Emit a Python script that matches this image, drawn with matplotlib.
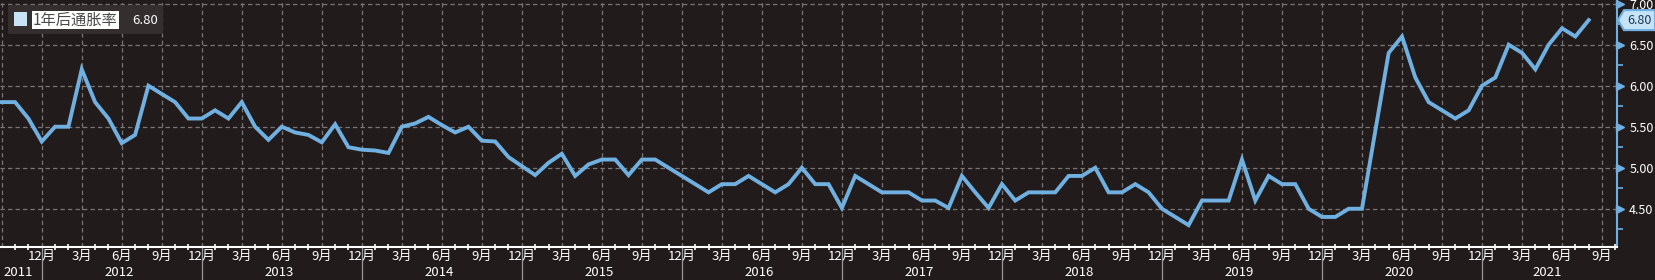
"""1-year-ahead inflation expectation, monthly, Bloomberg-style dark chart."""

import matplotlib

matplotlib.use("Agg")
import matplotlib.pyplot as plt
import matplotlib.transforms as mtransforms
from matplotlib.patches import FancyBboxPatch, Polygon, Rectangle
import numpy as np
import pandas as pd

SERIES_NAME = "1年后通胀率"
START_MONTH = "2011-09"
VALUES = [
    5.8, 5.8, 5.6, 5.32, 5.5, 5.5, 6.2, 5.8, 5.6, 5.3, 5.4, 6.0, 5.9, 5.8, 5.6, 5.6,
    5.7, 5.6, 5.8, 5.5, 5.34, 5.5,
    5.43, 5.4, 5.31, 5.53, 5.25, 5.22, 5.21, 5.18, 5.5, 5.54, 5.62, 5.52, 5.43, 5.5,
    5.33, 5.32, 5.13, 5.02, 4.91, 5.06,
    5.17, 4.9, 5.04, 5.1, 5.1, 4.91, 5.1, 5.1, 5.0, 4.9, 4.8, 4.7, 4.8, 4.8,
    4.9, 4.8, 4.7, 4.8, 5.0, 4.8,
    4.8, 4.51, 4.9, 4.8, 4.7, 4.7, 4.7, 4.6, 4.6, 4.51, 4.9, 4.7, 4.51, 4.8,
    4.6, 4.7, 4.7, 4.7, 4.9, 4.9,
    5.0, 4.7, 4.7, 4.8, 4.7, 4.5, 4.4, 4.3, 4.6, 4.6, 4.6, 5.1, 4.6, 4.9,
    4.8, 4.8, 4.5, 4.4, 4.4, 4.5,
    4.5, 5.45, 6.4, 6.6, 6.1, 5.8, 5.7, 5.6, 5.7, 6.0, 6.1, 6.5, 6.4, 6.2,
    6.5, 6.7, 6.6, 6.8,
]
Y_TICKS = [4.5, 5.0, 5.5, 6.0, 6.5, 7.0]
Y_MINOR = [4.25, 4.75, 5.25, 5.75, 6.25, 6.75]
QUARTER_MONTHS = [3, 6, 9, 12]

BG = "#221b1b"
LINE = "#6fb0e1"
GRID = "#7a7575"
FONT = ["Noto Sans CJK SC", "DejaVu Sans"]

W, H = 1656, 280


def fx(px):
    return px / W


def fy(py):
    return 1 - py / H


plt.rcParams["font.family"] = FONT

months = pd.date_range(START_MONTH, periods=len(VALUES), freq="MS")
x = np.arange(len(VALUES))
xmin, xmax = -0.13, 121.1

fig = plt.figure(figsize=(W / 100, H / 100), dpi=100, facecolor=BG)
ax = fig.add_axes([0, 1 - 247.3 / H, 1616.7 / W, 247.3 / H], facecolor=BG)

ax.plot(x, VALUES, color=LINE, lw=2.8, solid_joinstyle="miter", zorder=3)
ax.set_xlim(xmin, xmax)
ax.set_ylim(4.03, 7.045)

# x axis: quarter labels on gridlines, monthly minor ticks
all_idx = np.arange(0, int(xmax) + 1)
all_months = pd.date_range(START_MONTH, periods=len(all_idx), freq="MS")
q_idx = [i for i, m in zip(all_idx, all_months) if m.month in QUARTER_MONTHS]
# the first gridline sits on the left edge and carries no label
q_lab = ["" if i == 0 else f"{all_months[i].month}月" for i in q_idx]
m_idx = [i for i, m in zip(all_idx, all_months) if m.month not in QUARTER_MONTHS]
ax.set_xticks(q_idx, q_lab)
ax.set_xticks(m_idx, minor=True)
ax.tick_params(axis="x", which="major", length=0, pad=2, labelsize=9.5, labelcolor="white")
ax.tick_params(axis="x", which="minor", length=5, width=1.2, direction="inout", color="white")

# y axis on the right
ax.yaxis.tick_right()
ax.set_yticks(Y_TICKS, [f"{v:.2f}" for v in Y_TICKS])
ax.set_yticks(Y_MINOR, minor=True)
ax.tick_params(axis="y", which="major", length=0, pad=9, labelsize=9, labelcolor="white")
ax.tick_params(axis="y", which="minor", length=4, width=1.2, color=LINE)
ytrans = mtransforms.blended_transform_factory(ax.transAxes, ax.transData)
ax.plot([1.0 + 3.5 / 1616.7] * len(Y_TICKS), Y_TICKS, ls="none", marker=">", ms=6,
        color=LINE, transform=ytrans, clip_on=False, zorder=5)

ax.grid(True, which="major", color=GRID, lw=0.9, ls=(0, (3.5, 2.5)))
ax.set_axisbelow(True)
for side in ("top", "left"):
    ax.spines[side].set_visible(False)
ax.spines["bottom"].set_color("white")
ax.spines["bottom"].set_linewidth(1.5)
ax.spines["right"].set_color(LINE)
ax.spines["right"].set_linewidth(1.5)

# year labels and separators under the month labels
xtrans = mtransforms.blended_transform_factory(ax.transData, ax.transAxes)
dec_idx = [i for i, m in zip(all_idx, all_months) if m.month == 12]
edges = [xmin] + dec_idx + [xmax]
for left, right in zip(edges[:-1], edges[1:]):
    year = months[0].year if left < 0 else all_months[int(left) + 1].year
    ax.text((left + right) / 2 - 0.2, -0.1, str(year), transform=xtrans, ha="center",
            va="center", color="white", fontsize=9.5)
for d in dec_idx:
    ax.plot([d, d], [0, -0.14], color="#9a9a9a", lw=0.9, transform=xtrans, clip_on=False)

# legend box
fig.add_artist(FancyBboxPatch((fx(8), fy(34)), fx(155), 29 / H, boxstyle="round,pad=0,rounding_size=0.002",
                              transform=fig.transFigure, facecolor="#352e2e", edgecolor="none"))
fig.add_artist(Rectangle((fx(14), fy(26)), fx(13), 14 / H, transform=fig.transFigure,
                         facecolor="#c9e2f5", edgecolor="none"))
fig.text(fx(33), fy(20), SERIES_NAME, ha="left", va="center", fontsize=11, color="#4a4a4a",
         bbox=dict(facecolor="white", edgecolor="none", pad=0.6))
fig.text(fx(132), fy(20), f"{VALUES[-1]:.2f}", ha="left", va="center", fontsize=9.5, color="white")

# last value tag on the right axis
fig.canvas.draw()
tip_y = H - ax.transData.transform((0, VALUES[-1]))[1]
tag = [(1618, tip_y), (1624, tip_y - 10), (1655, tip_y - 10), (1655, tip_y + 10), (1624, tip_y + 10)]
fig.add_artist(Polygon([(fx(a), fy(b)) for a, b in tag], closed=True, transform=fig.transFigure,
                       facecolor="#c5e2f6", edgecolor=LINE, lw=1.5, zorder=10))
fig.text(fx(1639), fy(tip_y), f"{VALUES[-1]:.2f}", ha="center", va="center", fontsize=9,
         color="#1d3a56", zorder=11)

fig.savefig("out.png", dpi=100, facecolor=BG)
